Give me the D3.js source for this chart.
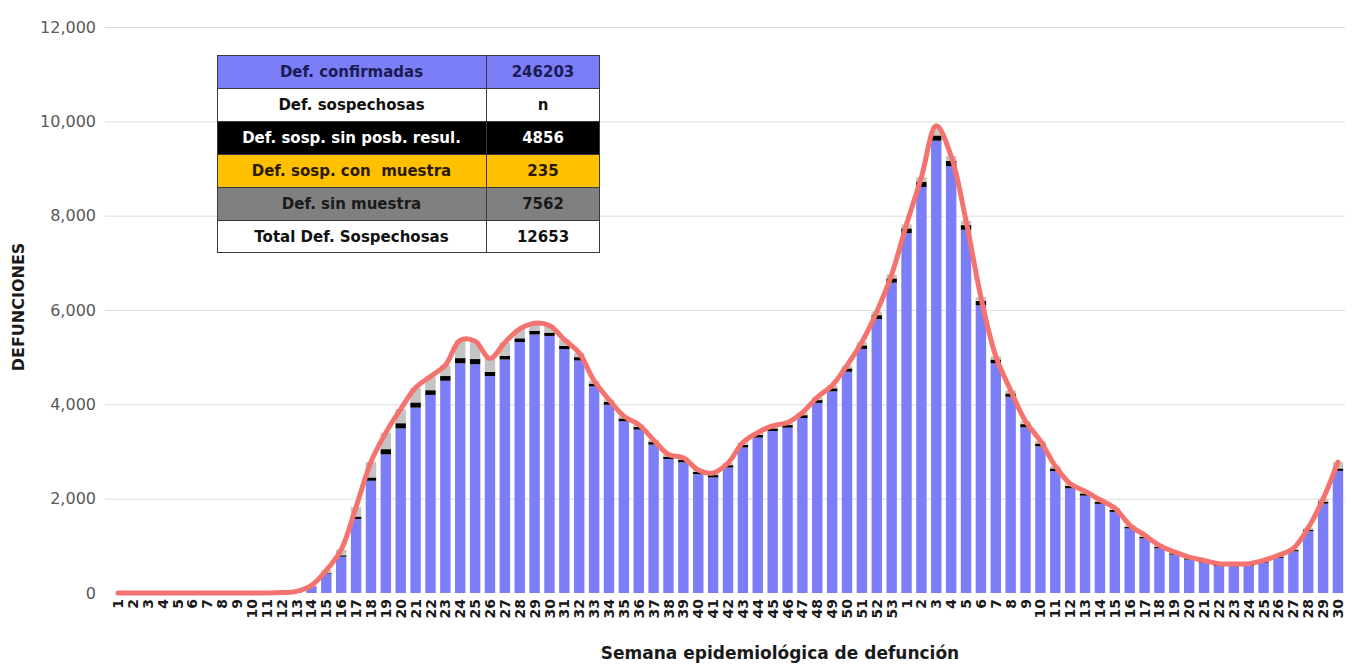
<!DOCTYPE html>
<html>
<head>
<meta charset="utf-8">
<script src="https://cdn.jsdelivr.net/npm/d3@7"></script>
<style>
body { margin: 0; background: #fff; }
text { font-family: "DejaVu Sans", sans-serif; }
</style>
</head>
<body>
<div id="display"></div>
<script>

// semanas: 2020 (1-53) y 2021 (1-30)
var semanas = ["1","2","3","4","5","6","7","8","9","10","11","12","13","14","15","16","17","18","19","20",
  "21","22","23","24","25","26","27","28","29","30","31","32","33","34","35","36","37","38","39","40",
  "41","42","43","44","45","46","47","48","49","50","51","52","53",
  "1","2","3","4","5","6","7","8","9","10","11","12","13","14","15","16","17","18","19","20",
  "21","22","23","24","25","26","27","28","29","30"];

// defunciones confirmadas (azul)
var confirmadas = [0,0,0,0,0,0,0,0,0,0,0,8,28,135,405,770,1570,2380,2940,3490,
  3930,4200,4500,4870,4850,4600,4950,5320,5480,5450,5170,4930,4380,3990,3640,3465,3145,2840,2770,2520,
  2450,2660,3085,3295,3435,3505,3710,4030,4275,4690,5175,5810,6580,
  7630,8610,9590,9050,7700,6100,4870,4160,3515,3110,2585,2220,2065,1890,1720,1370,1160,950,
  815,710,645,575,570,575,645,745,885,1310,1895,2590];

// sospechosas sin posibilidad de resultado (negro)
var sinPosibilidad = [0,0,0,0,0,0,0,0,0,0,0,0,2,5,15,30,50,70,110,110,
  110,100,100,110,110,90,80,80,80,70,70,70,60,60,60,55,55,50,50,50,
  50,50,55,55,55,55,60,60,65,70,75,80,90,
  100,110,110,110,100,90,80,70,65,60,55,50,45,45,40,35,30,30,
  25,25,20,20,20,20,20,25,25,30,40,50];

// sospechosas con muestra (amarillo)
var conMuestra = [0,0,0,0,0,0,0,0,0,0,0,0,0,0,0,0,0,0,0,0,
  0,0,0,0,0,0,0,0,0,0,0,0,0,0,0,0,0,0,0,0,
  5,5,5,5,5,5,5,5,5,5,5,5,5,
  6,6,6,6,6,6,6,6,6,6,6,6,6,6,6,6,6,6,
  6,6,5,5,5,5,5,5,5,5,5,5];

// sin muestra (gris)
var sinMuestra = [0,0,0,0,0,0,0,0,0,0,0,2,5,20,60,120,200,330,350,300,
  310,290,230,380,380,280,280,200,160,150,130,90,60,50,50,50,45,45,45,40,
  40,40,45,45,50,50,50,55,55,60,65,70,75,
  80,90,200,95,85,75,65,60,55,50,45,40,40,35,35,30,30,25,
  25,20,20,20,20,20,20,25,30,35,55,130];

var yTicks = [0, 2000, 4000, 6000, 8000, 10000, 12000];

// tabla de totales
var tablaEtiquetas = ["Def. confirmadas", "Def. sospechosas", "Def. sosp. sin posb. resul.",
  "Def. sosp. con  muestra", "Def. sin muestra", "Total Def. Sospechosas"];
var tablaValores = ["246203", "n", "4856", "235", "7562", "12653"];

var colores = { confirmadas: "#7b7ef6", sinPosibilidad: "#000000", conMuestra: "#ffc000", sinMuestra: "#c4c4c4" };
var tablaFondo = ["#7b7ef6", "#ffffff", "#000000", "#ffc000", "#808080", "#ffffff"];
var tablaTexto = ["#1b1b55", "#111111", "#ffffff", "#2a1a00", "#1a1a1a", "#111111"];

var data = semanas.map(function(s, i) {
  return { i: i, semana: s, confirmadas: confirmadas[i], sinPosibilidad: sinPosibilidad[i],
    conMuestra: conMuestra[i], sinMuestra: sinMuestra[i] };
});
var keys = ["confirmadas", "sinPosibilidad", "conMuestra", "sinMuestra"];
var series = d3.stack().keys(keys)(data);

var svg = d3.select("#display").append("svg")
  .attr("width", 1354).attr("height", 664)
  .style("background", "#fff");

var x = d3.scaleBand()
  .domain(d3.range(semanas.length))
  .range([110.6, 1345.4])
  .paddingInner(0.3).paddingOuter(0.15);

var y = d3.scaleLinear()
  .domain([0, 12000])
  .range([593, 27]);

// grid
svg.append("g").selectAll("line")
  .data(yTicks.slice(1))
  .enter().append("line")
  .attr("x1", 105).attr("x2", 1345)
  .attr("y1", function(d) { return y(d) + 0.5; })
  .attr("y2", function(d) { return y(d) + 0.5; })
  .attr("stroke", "#dcdcdc").attr("stroke-width", 1);

// y axis
var yAxis = svg.append("g")
  .attr("transform", "translate(96,0)")
  .call(d3.axisLeft(y).tickValues(yTicks).tickFormat(d3.format(",")).tickSize(0).tickPadding(0));
yAxis.select(".domain").remove();
yAxis.selectAll("text").attr("font-size", 16).attr("fill", "#595959")
  .style("font-family", "DejaVu Sans, sans-serif");

// bars
svg.append("g").selectAll("g")
  .data(series)
  .enter().append("g")
  .attr("fill", function(d) { return colores[d.key]; })
  .selectAll("rect")
  .data(function(d) { return d; })
  .enter().append("rect")
  .attr("x", function(d, i) { return x(i); })
  .attr("width", x.bandwidth())
  .attr("y", function(d) { return y(d[1]); })
  .attr("height", function(d) { return Math.max(0, y(d[0]) - y(d[1])); });

// total line
var line = d3.line()
  .x(function(d) { return x(d.i) + x.bandwidth() / 2; })
  .y(function(d) { return y(d.confirmadas + d.sinPosibilidad + d.conMuestra + d.sinMuestra); })
  .curve(d3.curveCatmullRom);

svg.append("path")
  .datum(data)
  .attr("d", line)
  .attr("fill", "none")
  .attr("stroke", "#f4736e")
  .attr("stroke-width", 5)
  .attr("stroke-linejoin", "round")
  .attr("stroke-linecap", "round");

// x axis
var xAxis = svg.append("g")
  .attr("transform", "translate(0,593)")
  .call(d3.axisBottom(x).tickFormat(function(i) { return semanas[i]; }).tickSize(0));
xAxis.select(".domain").remove();
xAxis.selectAll("text")
  .attr("transform", "rotate(-90)")
  .attr("x", -6).attr("y", 0).attr("dy", "0.36em")
  .style("text-anchor", "end")
  .attr("font-size", 14).attr("font-weight", "bold").attr("fill", "#1a1a1a")
  .style("font-family", "DejaVu Sans, sans-serif");

// axis titles
svg.append("text")
  .attr("x", 780).attr("y", 659)
  .attr("text-anchor", "middle")
  .attr("font-size", 17).attr("font-weight", "bold").attr("fill", "#1a1a1a")
  .text("Semana epidemiológica de defunción");

svg.append("text")
  .attr("transform", "translate(24,307) rotate(-90)")
  .attr("text-anchor", "middle")
  .attr("font-size", 16).attr("font-weight", "bold").attr("fill", "#1a1a1a")
  .text("DEFUNCIONES");

// table
var tx0 = 217, tx1 = 486, tx2 = 600, ty0 = 55, rh = 33;
var filas = svg.append("g").selectAll("g")
  .data(tablaEtiquetas)
  .enter().append("g")
  .attr("transform", function(d, i) { return "translate(0," + (ty0 + i * rh) + ")"; });

filas.append("rect")
  .attr("x", tx0).attr("width", tx2 - tx0)
  .attr("height", rh)
  .attr("fill", function(d, i) { return tablaFondo[i]; });

filas.append("text")
  .attr("x", (tx0 + tx1) / 2).attr("y", rh / 2).attr("dy", "0.36em")
  .attr("text-anchor", "middle")
  .attr("font-size", 15).attr("font-weight", "bold")
  .attr("fill", function(d, i) { return tablaTexto[i]; })
  .style("white-space", "pre")
  .text(function(d) { return d; });

filas.append("text")
  .attr("x", (tx1 + tx2) / 2).attr("y", rh / 2).attr("dy", "0.36em")
  .attr("text-anchor", "middle")
  .attr("font-size", 15).attr("font-weight", "bold")
  .attr("fill", function(d, i) { return tablaTexto[i]; })
  .text(function(d, i) { return tablaValores[i]; });

// table borders
var bordes = svg.append("g").attr("stroke", "#3a3a3a").attr("stroke-width", 1).attr("fill", "none");
bordes.append("rect").attr("x", tx0 + 0.5).attr("y", ty0 + 0.5)
  .attr("width", tx2 - tx0 - 1).attr("height", rh * tablaEtiquetas.length - 1);
bordes.selectAll(".h")
  .data(d3.range(1, tablaEtiquetas.length))
  .enter().append("line")
  .attr("x1", tx0).attr("x2", tx2)
  .attr("y1", function(d) { return ty0 + d * rh + 0.5; })
  .attr("y2", function(d) { return ty0 + d * rh + 0.5; });
bordes.append("line")
  .attr("x1", tx1 + 0.5).attr("x2", tx1 + 0.5)
  .attr("y1", ty0).attr("y2", ty0 + rh * tablaEtiquetas.length);

</script>
</body>
</html>
